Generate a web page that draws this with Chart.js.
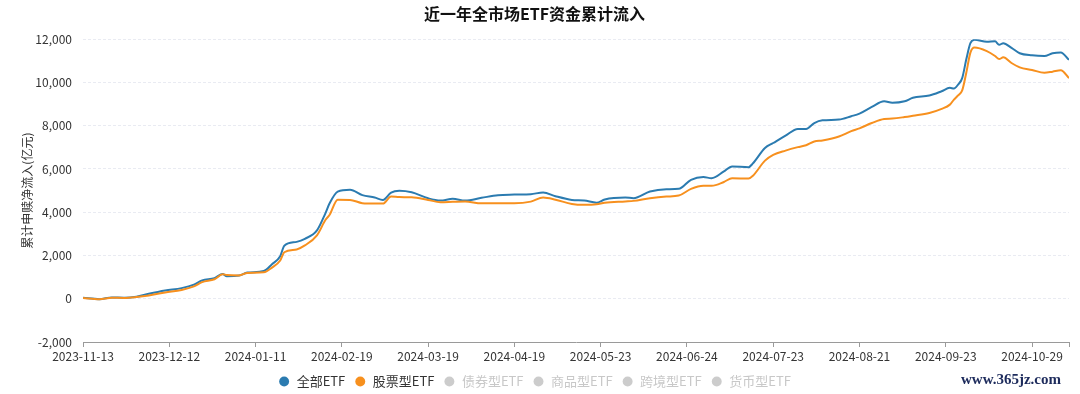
<!DOCTYPE html>
<html>
<head>
<meta charset="utf-8">
<script src="https://cdn.jsdelivr.net/npm/chart.js@4/dist/chart.umd.min.js"></script>
<style>
  body { margin: 0; background: #fff; }
  #wrap { position: relative; width: 1080px; height: 394px; }
  #mark { position: absolute; left: 961px; top: 371px; font: bold 15px "Liberation Serif", serif; color: #1d2b5c; }
</style>
</head>
<body>
<div id="wrap">
  <canvas id="etf-flow" width="1080" height="394"></canvas>
  <div id="mark">www.365jz.com</div>
</div>
<script>
// trading-day index since 2023-11-13 (ticks every 21 trading days)
const dayIdx = [0, 4, 7, 10, 13, 16, 20, 24, 27, 29, 32, 34, 35, 38, 40, 44, 46, 48, 49, 52, 54, 57, 59, 60, 62, 65, 68, 71, 73, 75, 77, 80, 84, 87, 90, 93, 97, 101, 105, 109, 112, 115, 119, 122, 125, 127, 132, 134, 138, 142, 145, 148, 151, 153, 156, 158, 162, 163, 166, 168, 171, 174, 176, 178, 180, 184, 187, 189, 192, 195, 197, 200, 202, 206, 209, 211, 212, 213, 214, 215, 216, 217, 220, 222, 223, 224, 226, 228, 231, 234, 236, 238, 240];

const allEtf = [45, -20, 60, 45, 90, 230, 385, 490, 650, 850, 955, 1145, 1040, 1070, 1210, 1280, 1595, 1970, 2450, 2630, 2770, 3175, 3950, 4400, 4950, 5035, 4790, 4680, 4570, 4910, 4990, 4920, 4645, 4540, 4620, 4540, 4665, 4790, 4815, 4835, 4910, 4740, 4570, 4540, 4440, 4590, 4680, 4650, 4960, 5065, 5080, 5500, 5625, 5575, 5885, 6120, 6080, 6245, 6970, 7200, 7540, 7850, 7850, 8125, 8250, 8285, 8440, 8560, 8870, 9130, 9060, 9130, 9290, 9395, 9595, 9750, 9720, 9900, 10200, 11070, 11815, 11970, 11880, 11900, 11740, 11815, 11600, 11350, 11255, 11225, 11350, 11385, 11045];

const stockEtf = [40, -20, 50, 40, 80, 150, 290, 405, 570, 770, 900, 1130, 1100, 1080, 1195, 1220, 1440, 1770, 2150, 2280, 2465, 2945, 3640, 3870, 4580, 4570, 4420, 4400, 4400, 4725, 4700, 4690, 4570, 4465, 4480, 4495, 4410, 4410, 4410, 4490, 4680, 4580, 4380, 4340, 4365, 4440, 4500, 4525, 4650, 4725, 4770, 5080, 5225, 5225, 5400, 5575, 5555, 5675, 6385, 6650, 6850, 7010, 7100, 7270, 7320, 7500, 7750, 7880, 8125, 8310, 8330, 8400, 8460, 8590, 8780, 8975, 9210, 9400, 9630, 10450, 11380, 11615, 11450, 11225, 11080, 11160, 10900, 10700, 10580, 10450, 10500, 10560, 10200];

const tickLabels = ["2023-11-13", "2023-12-12", "2024-01-11", "2024-02-19", "2024-03-19", "2024-04-19", "2024-05-23", "2024-06-24", "2024-07-23", "2024-08-21", "2024-09-23", "2024-10-29"];

const seriesNames = ["全部ETF", "股票型ETF", "债券型ETF", "商品型ETF", "跨境型ETF", "货币型ETF"];
const seriesColors = ["#2b7bb0", "#f7901e", "#cccccc", "#cccccc", "#cccccc", "#cccccc"];

const FONT = '"Noto Sans CJK SC", "Noto Sans", sans-serif';
const toPoints = vals => vals.map((v, i) => ({ x: dayIdx[i], y: v }));

// squeeze the legend down so it sits under the tick labels
const legendFit = {
  id: "legendFit",
  beforeInit(chart) {
    const fit = chart.legend.fit;
    chart.legend.fit = function () {
      fit.bind(chart.legend)();
      this.height = 28;
    };
  }
};

new Chart(document.getElementById("etf-flow"), {
  type: "line",
  data: {
    datasets: [
      { label: seriesNames[0], data: toPoints(allEtf), borderColor: seriesColors[0], backgroundColor: seriesColors[0], order: 2 },
      { label: seriesNames[1], data: toPoints(stockEtf), borderColor: seriesColors[1], backgroundColor: seriesColors[1], order: 1 }
    ]
  },
  options: {
    responsive: false,
    animation: false,
    layout: { padding: { left: 0, right: 11, top: 0, bottom: 0 } },
    elements: {
      point: { radius: 0 },
      line: { borderWidth: 2, tension: 0.3, cubicInterpolationMode: "monotone" }
    },
    scales: {
      x: {
        type: "linear",
        min: 0,
        max: 240,
        grid: { drawOnChartArea: false, drawTicks: true, tickLength: 5, color: "#9a9a9a" },
        border: { color: "#9a9a9a" },
        ticks: {
          stepSize: 21,
          autoSkip: false,
          maxRotation: 0,
          padding: 2,
          color: "#333",
          font: { family: FONT, size: 12 },
          callback: v => (v % 21 === 0 ? tickLabels[v / 21] : "")
        },
        afterFit: s => { s.height = 24; }
      },
      y: {
        min: -2000,
        max: 12000,
        grid: { color: "#e9ebf2", drawTicks: false },
        border: { display: false, dash: [3, 2] },
        ticks: {
          stepSize: 2000,
          padding: 11,
          color: "#333",
          font: { family: FONT, size: 12 },
          callback: v => v.toLocaleString("en-US")
        },
        title: {
          display: true,
          text: "累计申赎净流入(亿元)",
          color: "#333",
          font: { family: FONT, size: 12 },
          padding: { top: 20, bottom: 0 }
        },
        afterFit: s => { s.width = 83; }
      }
    },
    plugins: {
      title: {
        display: true,
        text: "近一年全市场ETF资金累计流入",
        color: "#111",
        font: { family: FONT, size: 16, weight: "bold" },
        padding: { top: 4, bottom: 16 }
      },
      legend: {
        position: "bottom",
        labels: {
          usePointStyle: true,
          boxWidth: 12,
          boxHeight: 7,
          padding: 9,
          font: { family: FONT, size: 13 },
          generateLabels: () => seriesNames.map((name, i) => ({
            text: name,
            fillStyle: seriesColors[i],
            strokeStyle: seriesColors[i],
            fontColor: i < 2 ? "#333" : "#c8c8c8",
            lineWidth: 0,
            pointStyle: "circle",
            hidden: false,
            datasetIndex: i
          }))
        }
      },
      tooltip: { enabled: false }
    }
  },
  plugins: [legendFit]
});
</script>
</body>
</html>
